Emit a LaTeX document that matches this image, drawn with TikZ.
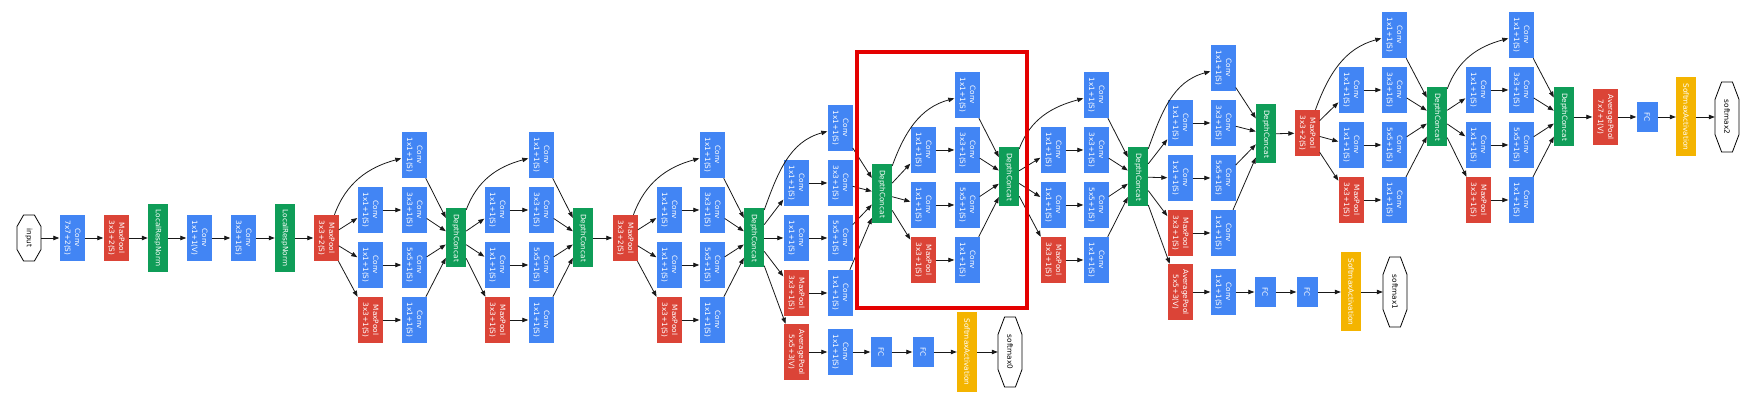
\documentclass[tikz,border=0pt]{standalone}
\usepackage{fontspec}
\setmainfont{DejaVu Sans}
\usepackage{graphicx}
\usetikzlibrary{arrows.meta}
\definecolor{gblue}{RGB}{66,133,244}
\definecolor{gred}{RGB}{219,68,55}
\definecolor{ggreen}{RGB}{15,157,88}
\definecolor{gyel}{RGB}{244,180,0}
\definecolor{hl}{RGB}{228,0,0}
\newcommand{\twol}[2]{\rotatebox{-90}{\begin{tabular}{@{}c@{}}#1\\#2\end{tabular}}}
\newcommand{\onel}[1]{\rotatebox{-90}{#1}}
\tikzset{
 blk/.style={rectangle, inner sep=0pt, text=white, font=\fontsize{7.3}{10}\selectfont},
 conv/.style={blk, fill=gblue, minimum width=25pt, minimum height=46pt},
 pool/.style={blk, fill=gred, minimum width=25pt, minimum height=46pt},
 apool/.style={blk, fill=gred, minimum width=25pt, minimum height=56pt},
 cat/.style={blk, fill=ggreen, minimum width=20pt, minimum height=59pt},
 lrn/.style={blk, fill=ggreen, minimum width=20pt, minimum height=68pt},
 fc/.style={blk, fill=gblue, minimum width=21pt, minimum height=30pt},
 smx/.style={blk, fill=gyel, minimum width=20pt, minimum height=79pt},
 term/.style={rectangle, inner sep=0pt, text=black, font=\fontsize{7.3}{10}\selectfont},
 arr/.style={line width=0.8pt, draw=black!90, -{Triangle[length=6pt,width=4.5pt]}},
 octline/.style={draw=black, line width=0.8pt, fill=white},
 hlbox/.style={draw=hl, line width=4.5pt},
}
% name, x, y, half width, half height, text
\newcommand{\octnode}[6]{%
 \draw[octline] (#2-0.45*#4,-#3-#5) -- (#2+0.45*#4,-#3-#5) -- (#2+#4,-#3-0.5*#5) -- (#2+#4,-#3+0.5*#5)
   -- (#2+0.45*#4,-#3+#5) -- (#2-0.45*#4,-#3+#5) -- (#2-#4,-#3+0.5*#5) -- (#2-#4,-#3-0.5*#5) -- cycle;
 \node[term, minimum width={2pt*#4}, minimum height={2pt*#5}] (#1) at (#2,-#3) {\onel{#6}};
}
% prefix, source, left x, right x, top row y, concat x, concat y
\newcommand{\incep}[7]{%
 \node[conv] (#1t) at (#4,-#5) {\twol{Conv}{1x1+1(S)}};
 \node[conv] (#1bl) at (#3,-#5-55) {\twol{Conv}{1x1+1(S)}};
 \node[conv] (#1br) at (#4,-#5-55) {\twol{Conv}{3x3+1(S)}};
 \node[conv] (#1cl) at (#3,-#5-110) {\twol{Conv}{1x1+1(S)}};
 \node[conv] (#1cr) at (#4,-#5-110) {\twol{Conv}{5x5+1(S)}};
 \node[pool] (#1dl) at (#3,-#5-165) {\twol{MaxPool}{3x3+1(S)}};
 \node[conv] (#1dr) at (#4,-#5-165) {\twol{Conv}{1x1+1(S)}};
 \node[cat] (#1o) at (#6,-#7) {\onel{DepthConcat}};
 \draw[arr] (#2) to[out=70,in=195] (#1t);
 \draw[arr] (#2) -- (#1bl);
 \draw[arr] (#2) -- (#1cl);
 \draw[arr] (#2) -- (#1dl);
 \draw[arr] (#1bl) -- (#1br);
 \draw[arr] (#1cl) -- (#1cr);
 \draw[arr] (#1dl) -- (#1dr);
 \draw[arr] (#1t) -- (#1o);
 \draw[arr] (#1br) -- (#1o);
 \draw[arr] (#1cr) -- (#1o);
 \draw[arr] (#1dr) -- (#1o);
}
\begin{document}
\begin{tikzpicture}[x=1pt, y=1pt]
\useasboundingbox (0,0) rectangle (1761,-411);
% stem
\octnode{in}{29}{238}{12}{23}{input}
\node[conv] (c1) at (72,-238) {\twol{Conv}{7x7+2(S)}};
\node[pool] (p1) at (116,-238) {\twol{MaxPool}{3x3+2(S)}};
\node[lrn] (n1) at (158,-238) {\onel{LocalRespNorm}};
\node[conv] (c2) at (199,-238) {\twol{Conv}{1x1+1(V)}};
\node[conv] (c3) at (243,-238) {\twol{Conv}{3x3+1(S)}};
\node[lrn] (n2) at (285,-238) {\onel{LocalRespNorm}};
\node[pool] (p2) at (326,-238) {\twol{MaxPool}{3x3+2(S)}};
\draw[arr] (in) -- (c1);
\draw[arr] (c1) -- (p1);
\draw[arr] (p1) -- (n1);
\draw[arr] (n1) -- (c2);
\draw[arr] (c2) -- (c3);
\draw[arr] (c3) -- (n2);
\draw[arr] (n2) -- (p2);
% inception 3a, 3b
\incep{ia}{p2}{370}{414}{155}{456}{238}
\incep{ib}{iao}{497}{541}{155}{583}{238}
\node[pool] (p3) at (625,-238) {\twol{MaxPool}{3x3+2(S)}};
\draw[arr] (ibo) -- (p3);
% inception 4a .. 4e
\incep{ic}{p3}{669}{712}{155}{754}{238}
\incep{id}{ico}{796}{840}{128}{882}{194}
\node[apool] (ap1) at (796,-352) {\twol{AveragePool}{5x5+3(V)}};
\node[conv] (ac1) at (840,-352) {\twol{Conv}{1x1+1(S)}};
\node[fc] (fa1) at (881,-352) {\onel{FC}};
\node[fc] (fb1) at (923,-352) {\onel{FC}};
\node[smx] (s1) at (967,-352) {\onel{SoftmaxActivation}};
\octnode{o1}{1010}{352}{12}{35}{softmax0}
\draw[arr] (ico) -- (ap1);
\draw[arr] (ap1) -- (ac1);
\draw[arr] (ac1) -- (fa1);
\draw[arr] (fa1) -- (fb1);
\draw[arr] (fb1) -- (s1);
\draw[arr] (s1) -- (o1);
\incep{ie}{ido}{923}{967}{95}{1009}{177}
\incep{if}{ieo}{1053}{1096}{95}{1138}{177}
\incep{ig}{ifo}{1180}{1223}{68}{1266}{134}
\node[apool] (ap2) at (1180,-292) {\twol{AveragePool}{5x5+3(V)}};
\node[conv] (ac2) at (1223,-292) {\twol{Conv}{1x1+1(S)}};
\node[fc] (fa2) at (1265,-292) {\onel{FC}};
\node[fc] (fb2) at (1307,-292) {\onel{FC}};
\node[smx] (s2) at (1351,-292) {\onel{SoftmaxActivation}};
\octnode{o2}{1395}{292}{12}{35}{softmax1}
\draw[arr] (ifo) -- (ap2);
\draw[arr] (ap2) -- (ac2);
\draw[arr] (ac2) -- (fa2);
\draw[arr] (fa2) -- (fb2);
\draw[arr] (fb2) -- (s2);
\draw[arr] (s2) -- (o2);
\node[pool] (p4) at (1307,-133) {\twol{MaxPool}{3x3+2(S)}};
\draw[arr] (igo) -- (p4);
% inception 5a, 5b
\incep{ih}{p4}{1351}{1394}{35}{1437}{117}
\incep{ii}{iho}{1478}{1521}{35}{1564}{117}
\node[apool] (ap3) at (1605,-117) {\twol{AveragePool}{7x7+1(V)}};
\node[fc] (f3) at (1647,-117) {\onel{FC}};
\node[smx] (s3) at (1686,-117) {\onel{SoftmaxActivation}};
\octnode{o3}{1727}{117}{12}{35}{softmax2}
\draw[arr] (iio) -- (ap3);
\draw[arr] (ap3) -- (f3);
\draw[arr] (f3) -- (s3);
\draw[arr] (s3) -- (o3);
% highlight
\draw[hlbox] (857,-52) rectangle (1027,-308);
\end{tikzpicture}
\end{document}
